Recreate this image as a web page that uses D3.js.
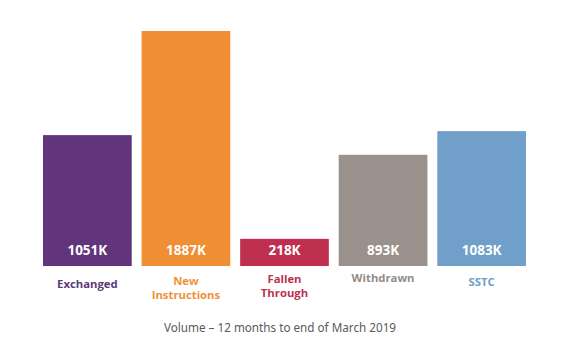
<!DOCTYPE html>
<html lang="en">
<head>
<meta charset="UTF-8">
<title>Volume chart</title>
<script src="https://cdn.jsdelivr.net/npm/d3@7/dist/d3.min.js"></script>
<style>
  body { margin: 0; background: #fff; }
</style>
</head>
<body>
<script>
    // data
    var categories = ["Exchanged", "New Instructions", "Fallen Through", "Withdrawn", "SSTC"];
    var values = [1051, 1887, 218, 893, 1083];
    var valueLabels = ["1051K", "1887K", "218K", "893K", "1083K"];
    var labelLines = [["Exchanged"], ["New", "Instructions"], ["Fallen", "Through"], ["Withdrawn"], ["SSTC"]];
    var barColors = ["#61347b", "#f08e33", "#bf3050", "#9a918c", "#70a0ca"];
    var textColors = ["#5d3a78", "#f0913a", "#b83350", "#948b87", "#6e9cc6"];
    var title = "Volume \u2013 12 months to end of March 2019";

    // baseline of the first label line, per bar
    var labelY = [288, 285, 283, 282, 286];

    var width = 567, height = 354;
    var svg = d3.select("body").append("svg")
        .attr("width", width)
        .attr("height", height);

    var baseY = 266;
    var x = d3.scaleBand()
        .domain(categories)
        .range([43, 526])
        .paddingInner(0.1)
        .paddingOuter(0);
    var y = d3.scaleLinear()
        .domain([0, 1887])
        .range([baseY, 31]);

    var g = svg.selectAll("g.bar")
        .data(categories)
        .enter()
        .append("g")
        .attr("class", "bar");

    g.append("rect")
        .attr("x", function (d) { return x(d); })
        .attr("y", function (d, i) { return y(values[i]); })
        .attr("width", x.bandwidth())
        .attr("height", function (d, i) { return baseY - y(values[i]); })
        .attr("fill", function (d, i) { return barColors[i]; });

    // value inside the bar
    g.append("text")
        .attr("x", function (d) { return x(d) + x.bandwidth() / 2; })
        .attr("y", 255)
        .attr("text-anchor", "middle")
        .style("font-family", "'Open Sans', sans-serif")
        .style("font-weight", "bold")
        .style("font-size", "13.5px")
        .attr("fill", "#fff")
        .text(function (d, i) { return valueLabels[i]; });

    // category labels
    g.each(function (d, i) {
        var lines = labelLines[i];
        var t = d3.select(this).append("text")
            .attr("text-anchor", "middle")
            .style("font-family", "'Open Sans', sans-serif")
            .style("font-weight", "bold")
            .style("font-size", "11.3px")
            .attr("fill", textColors[i]);
        lines.forEach(function (line, k) {
            t.append("tspan")
                .attr("x", x(d) + x.bandwidth() / 2)
                .attr("y", labelY[i] + k * 14)
                .text(line);
        });
    });

    svg.append("text")
        .attr("x", 280)
        .attr("y", 332)
        .attr("text-anchor", "middle")
        .style("font-family", "'Noto Sans', sans-serif")
        .style("font-size", "11.7px")
        .attr("fill", "#5a5a5a")
        .text(title);
</script>
</body>
</html>
